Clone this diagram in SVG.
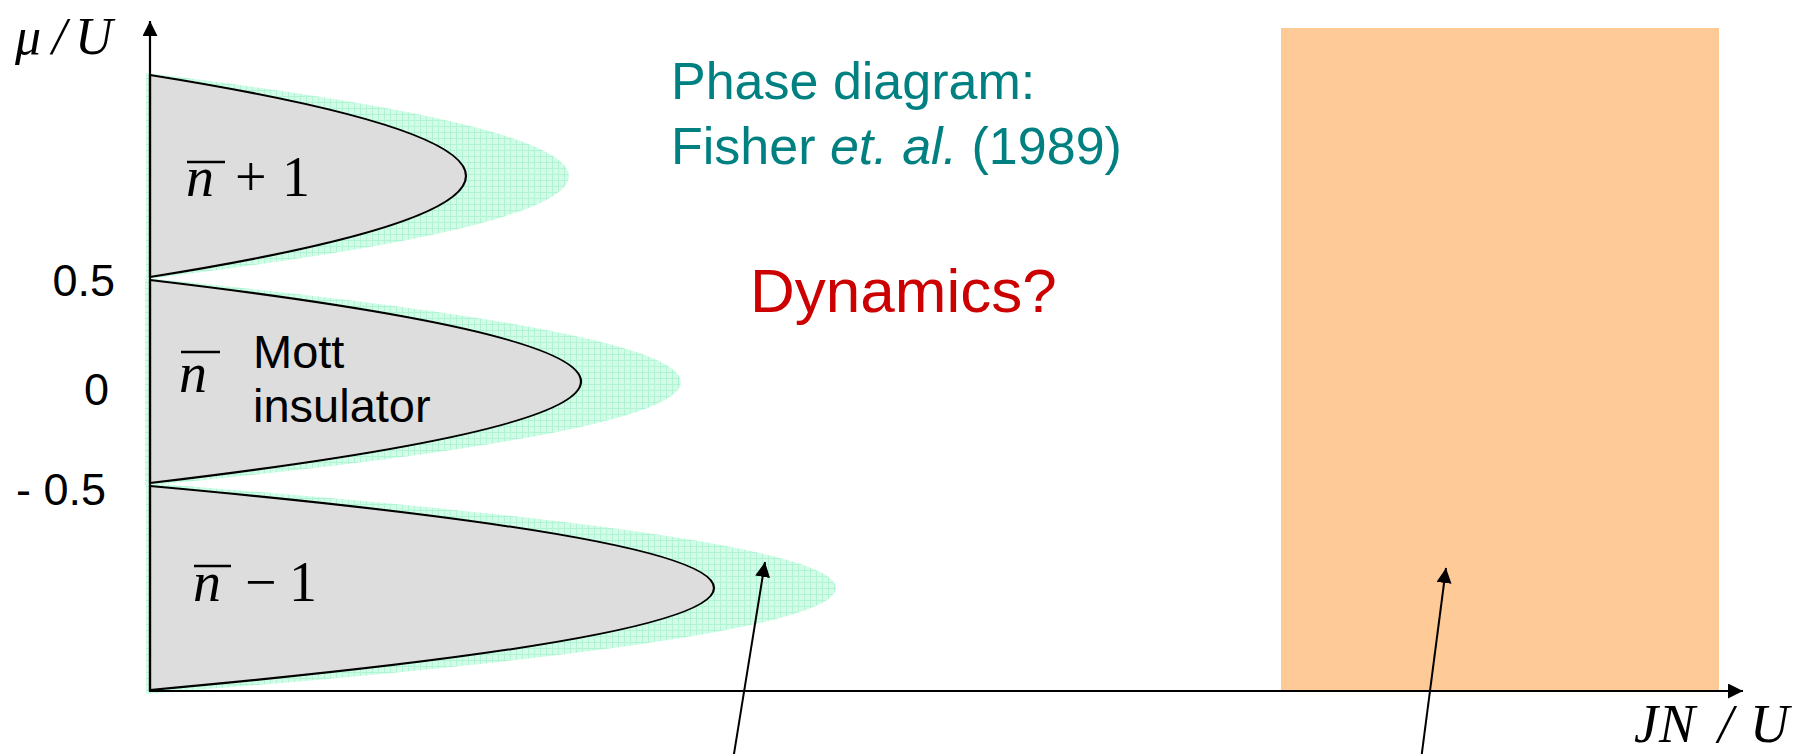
<svg xmlns="http://www.w3.org/2000/svg" width="1803" height="754" viewBox="0 0 1803 754">
<style>
.lobe{fill:#DDDDDD;stroke:#000;stroke-width:2.2}
.halo{fill:url(#hatch);stroke:none}
.ax{stroke:#000;stroke-width:2.2;fill:none}
.ptr{stroke:#000;stroke-width:2;fill:none}
.sans{font-family:"Liberation Sans",Arial,sans-serif}
.math{font-family:"Liberation Serif","Times New Roman",serif;fill:#000}
.tick{font-family:"Liberation Sans",Arial,sans-serif;font-size:45px;fill:#000;text-anchor:end}
.bar{stroke:#000;stroke-width:2.4}
</style>
<defs>
<pattern id="hatch" width="6" height="6" patternUnits="userSpaceOnUse">
<rect width="6" height="6" fill="#D2FCE8"/>
<path d="M0,0.5H6M0.5,0V6" stroke="#B0F4D4" stroke-width="1"/>
</pattern>
<marker id="ah" viewBox="0 0 10 10" refX="10" refY="5" markerWidth="15" markerHeight="15" markerUnits="userSpaceOnUse" orient="auto">
<path d="M0,0L10,5L0,10Z" fill="#000"/>
</marker>
</defs>
<rect width="1803" height="754" fill="#fff"/>
<g id="superfluid-region">
<rect x="1281" y="28" width="438" height="663" fill="#FECA98"/>
</g>
<g id="halos">
<path class="halo" d="M146,73 Q569,124 569,176 Q569,228 146,279 Z"/>
<path class="halo" d="M145,278 Q681,330 681,382 Q681,434 145,486 Z"/>
<path class="halo" d="M146,483 Q836,535.5 836,588 Q836,640.5 146,694 Z"/>
</g>
<g id="lobe-n-plus-1">
<path class="lobe" d="M150,75 Q466,125.5 466,176 Q466,226.5 150,277 Z"/>
<text class="math" x="186" y="196" font-size="56" font-style="italic">n</text>
<line class="bar" x1="187" y1="162" x2="225" y2="162"/>
<text class="math" x="235" y="196" font-size="56">+</text>
<text class="math" x="282" y="196" font-size="56">1</text>
</g>
<g id="lobe-n">
<path class="lobe" d="M150,280 Q581,331 581,381.5 Q581,432 150,483 Z"/>
<text class="math" x="179" y="392" font-size="56" font-style="italic">n</text>
<line class="bar" x1="181" y1="352" x2="220" y2="352"/>
<text class="sans" x="253" y="368" font-size="47" fill="#000">Mott</text>
<text class="sans" x="253" y="422" font-size="47" fill="#000">insulator</text>
</g>
<g id="lobe-n-minus-1">
<path class="lobe" d="M150,486 Q714,537 714,588 Q714,639 150,690 Z"/>
<text class="math" x="193" y="601" font-size="56" font-style="italic">n</text>
<line class="bar" x1="194" y1="566" x2="231" y2="566"/>
<text class="math" x="245" y="601" font-size="56">−</text>
<text class="math" x="289" y="601" font-size="56">1</text>
</g>
<g id="axes">
<line class="ax" x1="150" y1="691" x2="150" y2="21" marker-end="url(#ah)"/>
<line class="ax" x1="149" y1="691" x2="1743" y2="691" marker-end="url(#ah)"/>
<text class="math" y="54" font-size="52" font-style="italic"><tspan x="15">μ</tspan><tspan x="52">/</tspan><tspan x="75">U</tspan></text>
<text class="math" y="742" font-size="54" font-style="italic"><tspan x="1634">J</tspan><tspan x="1659">N</tspan><tspan x="1718">/</tspan><tspan x="1750">U</tspan></text>
<text class="tick" x="115" y="296">0.5</text>
<text class="tick" x="109" y="405">0</text>
<text class="tick" x="106" y="505">- 0.5</text>
</g>
<g id="titles">
<text class="sans" x="671" y="99" font-size="52" fill="#008080">Phase diagram:</text>
<text class="sans" x="671" y="164" font-size="52" fill="#008080">Fisher <tspan font-style="italic">et. al.</tspan> (1989)</text>
<text class="sans" x="750" y="312" font-size="62" fill="#CC0000">Dynamics?</text>
</g>
<g id="connectors">
<line class="ptr" x1="733" y1="760" x2="765" y2="562" marker-end="url(#ah)"/>
<line class="ptr" x1="1421" y1="760" x2="1446" y2="568" marker-end="url(#ah)"/>
</g>
</svg>
